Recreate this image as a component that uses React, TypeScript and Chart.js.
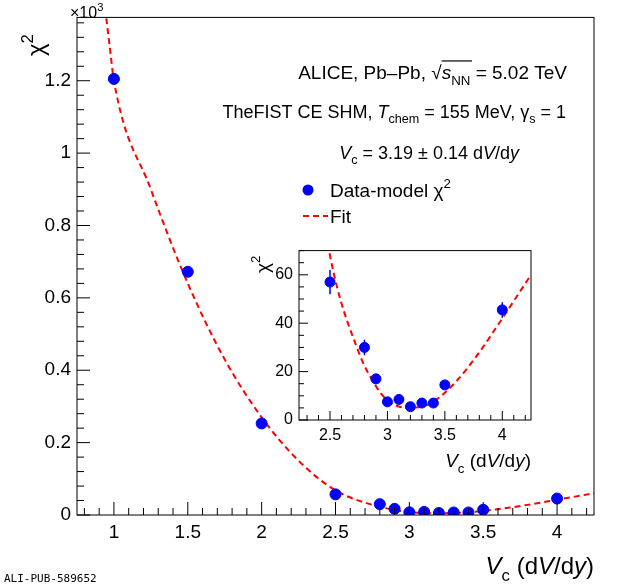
import React, { useEffect, useRef } from "react";
import { Chart, registerables } from "chart.js";
Chart.register(...registerables);

const vc = [1, 1.5, 2, 2.5, 2.8, 2.9, 3, 3.1, 3.2, 3.3, 3.4, 3.5, 4];
const chi2 = [1205, 672, 253, 57, 30, 17, 7.5, 8.5, 5.5, 7, 7, 14.5, 45.5];
const chi2Err = [12, 12, 6, 5, 3.2, 2, 1.5, 1.5, 1.2, 1.5, 1.5, 1.5, 3.2];
const fitX = [0.94, 0.97, 1, 1.25, 1.5, 1.75, 2, 2.25, 2.5, 2.75, 2.9, 3, 3.1, 3.2, 3.3, 3.4, 3.6, 3.8, 4, 4.25];
const fitY = [1400, 1300, 1200, 900, 640, 430, 270, 150, 68, 28, 14, 8, 5.6, 5, 5.6, 7.5, 16, 28, 42, 60];
const mainXTicks = [1, 1.5, 2, 2.5, 3, 3.5, 4];
const mainYTicks = [0, 200, 400, 600, 800, 1000, 1200];
const insetXTicks = [2.5, 3, 3.5, 4];
const insetYTicks = [0, 20, 40, 60];

const FONT = "'Liberation Sans', Arial, sans-serif";

type Seg = { t: string; it?: boolean; sub?: boolean; sup?: boolean; bar?: boolean };
function drawRich(ctx: CanvasRenderingContext2D, segs: Seg[], x: number, y: number, size: number, align: "left" | "right" | "center") {
  const fontOf = (s: Seg) => `${s.it ? "italic " : ""}${s.sub || s.sup ? size * 0.7 : size}px ${FONT}`;
  let w = 0;
  for (const s of segs) { ctx.font = fontOf(s); w += ctx.measureText(s.t).width; }
  let cx = align === "left" ? x : align === "right" ? x - w : x - w / 2;
  ctx.textBaseline = "alphabetic";
  ctx.textAlign = "left";
  for (const s of segs) {
    ctx.font = fontOf(s);
    const dy = s.sub ? size * 0.3 : s.sup ? -size * 0.45 : 0;
    ctx.fillText(s.t, cx, y + dy);
    const sw = ctx.measureText(s.t).width;
    if (s.bar) {
      ctx.beginPath(); ctx.lineWidth = 1.2;
      ctx.moveTo(cx, y - size * 0.95); ctx.lineTo(cx + sw + size * 1.1, y - size * 0.95); ctx.stroke();
    }
    cx += sw;
  }
}

function ticksPlugin(xMinor: number, yMinor: number, major: number, minor: number) {
  return {
    id: "innerTicks",
    afterDatasetsDraw(chart: any) {
      const { ctx, chartArea: a, scales } = chart;
      const xs = scales.x, ys = scales.y;
      ctx.save(); ctx.strokeStyle = "#000"; ctx.lineWidth = 1;
      ctx.strokeRect(a.left, a.top, a.right - a.left, a.bottom - a.top);
      ctx.beginPath();
      const xmaj = xs.ticks.map((t: any) => t.value);
      for (let v = Math.ceil(xs.min / xMinor) * xMinor; v <= xs.max + 1e-9; v += xMinor) {
        const isMaj = xmaj.some((m: number) => Math.abs(m - v) < 1e-6);
        const p = xs.getPixelForValue(v); const L = isMaj ? major : minor;
        ctx.moveTo(p, a.bottom); ctx.lineTo(p, a.bottom - L);
      }
      const ymaj = ys.ticks.map((t: any) => t.value);
      for (let v = Math.ceil(ys.min / yMinor) * yMinor; v <= ys.max + 1e-9; v += yMinor) {
        const isMaj = ymaj.some((m: number) => Math.abs(m - v) < 1e-6);
        const p = ys.getPixelForValue(v); const L = isMaj ? major : minor;
        ctx.moveTo(a.left, p); ctx.lineTo(a.left + L, p);
      }
      ctx.stroke(); ctx.restore();
    },
  };
}

const errPlugin = {
  id: "errbars",
  beforeDatasetsDraw(chart: any) {
    const { ctx, scales } = chart;
    ctx.save(); ctx.strokeStyle = "#0000ff"; ctx.lineWidth = 1.5;
    ctx.beginPath();
    vc.forEach((x, i) => {
      if (x < scales.x.min || x > scales.x.max) return;
      const px = scales.x.getPixelForValue(x);
      ctx.moveTo(px, scales.y.getPixelForValue(chi2[i] - chi2Err[i]));
      ctx.lineTo(px, scales.y.getPixelForValue(chi2[i] + chi2Err[i]));
    });
    ctx.stroke(); ctx.restore();
  },
};

function makeDatasets(r: number) {
  return [
    { label: "Data-model χ²", data: vc.map((x, i) => ({ x, y: chi2[i] })), backgroundColor: "#0000ff", borderColor: "#0000ff", pointRadius: r, showLine: false, order: 1 },
    { label: "Fit", data: fitX.map((x, i) => ({ x, y: fitY[i] })), borderColor: "#ff0000", borderDash: [6, 4], borderWidth: 2, pointRadius: 0, showLine: true, cubicInterpolationMode: "monotone", order: 2 },
  ];
}

function axisOpts(min: number, max: number, ticks: number[], size: number, cb: (v: number) => string, fit: (s: any) => void) {
  return {
    type: "linear", min, max,
    afterBuildTicks: (s: any) => { s.ticks = ticks.map((v) => ({ value: v })); },
    afterFit: fit,
    grid: { display: false, drawTicks: false },
    border: { display: false },
    ticks: { color: "#000", font: { family: FONT, size }, padding: 6, callback: (v: any) => cb(v), maxRotation: 0, autoSkip: false },
  };
}

export default function App() {
  const mainRef = useRef<HTMLCanvasElement>(null);
  const insetRef = useRef<HTMLCanvasElement>(null);
  useEffect(() => {
    const textPlugin = {
      id: "texts",
      afterDraw(chart: any) {
        const ctx = chart.ctx; ctx.save(); ctx.fillStyle = "#000"; ctx.strokeStyle = "#000";
        drawRich(ctx, [{ t: "ALICE, Pb–Pb, √" }, { t: "s", it: true, bar: true }, { t: "NN", sub: true }, { t: " = 5.02 TeV" }], 567, 79, 19, "right");
        drawRich(ctx, [{ t: "TheFIST CE SHM, " }, { t: "T", it: true }, { t: "chem", sub: true }, { t: " = 155 MeV, γ" }, { t: "s", sub: true }, { t: " = 1" }], 566, 118, 18, "right");
        drawRich(ctx, [{ t: "V", it: true }, { t: "c", sub: true }, { t: " = 3.19 ± 0.14 d" }, { t: "V", it: true }, { t: "/d" }, { t: "y", it: true }], 519, 159, 18, "right");
        ctx.fillStyle = "#0000ff"; ctx.beginPath(); ctx.arc(308, 190, 5.5, 0, Math.PI * 2); ctx.fill();
        ctx.fillStyle = "#000";
        drawRich(ctx, [{ t: "Data-model χ" }, { t: "2", sup: true }], 330, 197, 19, "left");
        ctx.strokeStyle = "#ff0000"; ctx.lineWidth = 2; ctx.setLineDash([6, 4]);
        ctx.beginPath(); ctx.moveTo(303, 216); ctx.lineTo(328, 216); ctx.stroke(); ctx.setLineDash([]);
        drawRich(ctx, [{ t: "Fit" }], 330, 223, 19, "left");
        drawRich(ctx, [{ t: "V", it: true }, { t: "c", sub: true }, { t: " (d" }, { t: "V", it: true }, { t: "/d" }, { t: "y", it: true }, { t: ")" }], 594, 574, 24, "right");
        drawRich(ctx, [{ t: "×10" }, { t: "3", sup: true }], 70, 18, 16, "left");
        ctx.save(); ctx.translate(44, 56); ctx.rotate(-Math.PI / 2);
        drawRich(ctx, [{ t: "χ" }, { t: "2", sup: true }], 0, 0, 24, "left");
        ctx.restore();
        ctx.font = `11px 'DejaVu Sans Mono', monospace`; ctx.textAlign = "left";
        ctx.fillText("ALI-PUB-589652", 4, 582);
        ctx.restore();
      },
    };
    const main = new Chart(mainRef.current!, {
      type: "scatter",
      data: { datasets: makeDatasets(5.5) as any },
      options: {
        animation: false, responsive: false,
        layout: { padding: { top: 8, right: 26, left: 0, bottom: 0 } },
        plugins: { legend: { display: false }, tooltip: { enabled: false } },
        scales: {
          x: axisOpts(0.75, 4.25, mainXTicks, 19, (v) => String(v), (s) => { s.height = 73; }) as any,
          y: axisOpts(0, 1375, mainYTicks, 19, (v) => String(v / 1000), (s) => { s.width = 77; }) as any,
        },
      },
      plugins: [errPlugin, ticksPlugin(0.1, 40, 13, 7), textPlugin],
    });
    const insetText = {
      id: "itext",
      afterDraw(chart: any) {
        const ctx = chart.ctx; ctx.save(); ctx.fillStyle = "#000";
        drawRich(ctx, [{ t: "V", it: true }, { t: "c", sub: true }, { t: " (d" }, { t: "V", it: true }, { t: "/d" }, { t: "y", it: true }, { t: ")" }], 281, 232, 19, "right");
        ctx.translate(19, 38); ctx.rotate(-Math.PI / 2);
        drawRich(ctx, [{ t: "χ" }, { t: "2", sup: true }], 0, 0, 19, "left");
        ctx.restore();
      },
    };
    const inset = new Chart(insetRef.current!, {
      type: "scatter",
      data: { datasets: makeDatasets(5) as any },
      options: {
        animation: false, responsive: false,
        layout: { padding: { top: 8, right: 9, left: 0, bottom: 0 } },
        plugins: { legend: { display: false }, tooltip: { enabled: false } },
        scales: {
          x: axisOpts(2.23, 4.25, insetXTicks, 16, (v) => String(v), (s) => { s.height = 65; }) as any,
          y: axisOpts(0, 70, insetYTicks, 16, (v) => String(v), (s) => { s.width = 49; }) as any,
        },
      },
      plugins: [errPlugin, ticksPlugin(0.1, 5, 9, 5), insetText],
    });
    return () => { main.destroy(); inset.destroy(); };
  }, []);
  return (
    <div style={{ position: "absolute", left: 0, top: 0, width: 620, height: 588, background: "#fff" }}>
      <canvas ref={mainRef} width={620} height={588} style={{ position: "absolute", left: 0, top: 0 }} />
      <canvas ref={insetRef} width={290} height={250} style={{ position: "absolute", left: 250, top: 235 }} />
    </div>
  );
}
